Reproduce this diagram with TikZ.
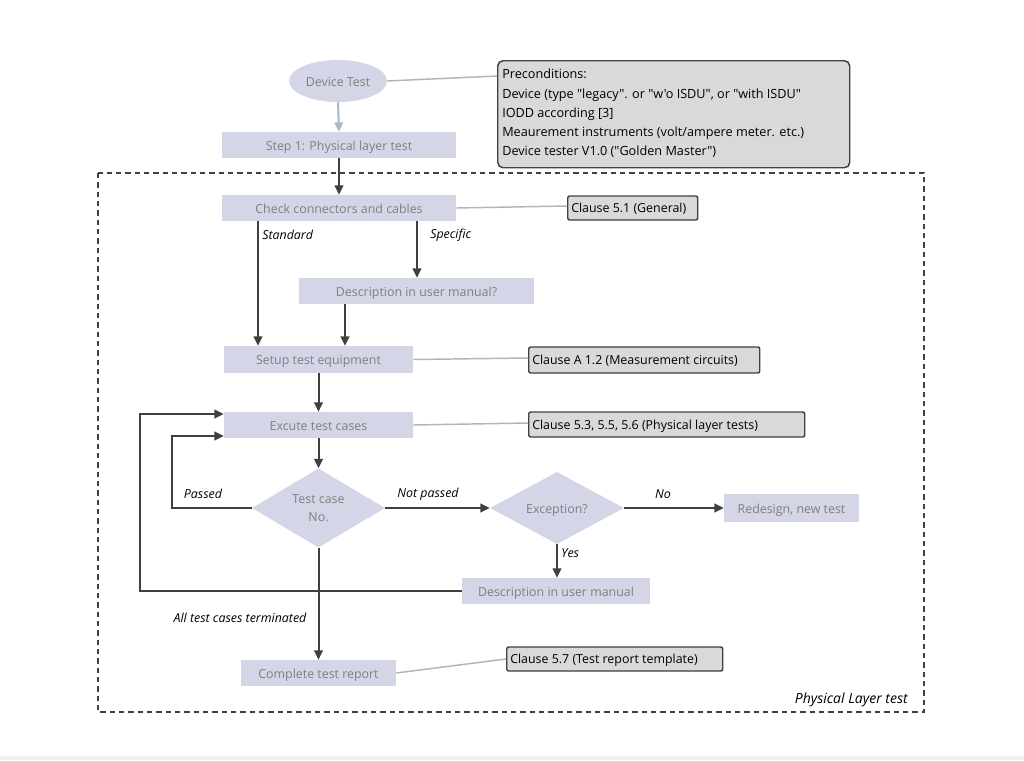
\documentclass[tikz,border=0pt]{standalone}
\usepackage{fontspec}
\setmainfont{Open Sans}[Ligatures=TeXOff]
\usetikzlibrary{shapes.geometric,arrows.meta}
\definecolor{boxfill}{HTML}{D4D6E8}
\definecolor{boxtext}{HTML}{7F7F7F}
\definecolor{darkline}{HTML}{404040}
\definecolor{greyline}{HTML}{B4B4B4}
\definecolor{notefill}{HTML}{D9D9D9}
\definecolor{blueline}{HTML}{A8B8C8}
\newcommand{\bodyfont}{\fontsize{9.3}{11}\selectfont}
\tikzset{
  lowtext/.style={text height=7.9pt, text depth=0pt},
  proc/.style={rectangle, fill=boxfill, text=boxtext, inner sep=0pt, font=\bodyfont, lowtext},
  dec/.style={diamond, fill=boxfill, text=boxtext, inner sep=0pt, align=center, font=\fontsize{9.3}{13.5}\selectfont},
  note/.style={rectangle, fill=notefill, draw=darkline, line width=1.1pt, rounded corners=1.5pt, inner sep=0pt, text=black, anchor=west},
  notetext/.style={anchor=west, inner sep=0pt, text=black, font=\bodyfont, text height=7.3pt, text depth=0pt},
  flow/.style={draw=darkline, line width=1.5pt, -{Triangle[length=7pt,width=6.5pt]}},
  link/.style={draw=greyline, line width=1.1pt},
  lbl/.style={font=\fontsize{9.3}{11}\selectfont\itshape, text=black, inner sep=0pt},
}
\begin{document}
\begin{tikzpicture}[x=0.75pt,y=-0.75pt]
\useasboundingbox (0,0) rectangle (1024,760);
\fill[white] (0,0) rectangle (1024,760);
\fill[black!6] (0,756) rectangle (1024,760);

% group frame
\draw[darkline, line width=1pt, dash pattern=on 4pt off 3pt] (98,173) rectangle (924,712);
\node[lbl, font=\fontsize{10.5}{12}\selectfont\itshape, anchor=south east] (grouplbl) at (908,707) {Physical Layer test};

% nodes
\node[ellipse, fill=boxfill, text=boxtext, minimum width=98*0.75pt, minimum height=42*0.75pt, inner sep=0pt, font=\bodyfont, lowtext] (start) at (338,81) {Device Test};
\node[proc, minimum width=234*0.75pt, minimum height=26*0.75pt] (step1) at (339,145) {Step 1: Physical layer test};
\node[proc, minimum width=234*0.75pt, minimum height=26*0.75pt] (check) at (339,208) {Check connectors and cables};
\node[proc, minimum width=235*0.75pt, minimum height=26*0.75pt] (descq) at (416.5,291) {Description in user manual?};
\node[proc, minimum width=189*0.75pt, minimum height=27*0.75pt] (setup) at (318.5,359.5) {Setup test equipment};
\node[proc, minimum width=189*0.75pt, minimum height=26*0.75pt] (exec) at (318.5,425) {Excute test cases};
\node[dec, minimum width=133*0.75pt, minimum height=64*0.75pt] (tc) at (318.5,508) {Test case\\No.};
\node[dec, lowtext, minimum width=134*0.75pt, minimum height=65*0.75pt] (exc) at (557,508) {Exception?};
\node[proc, minimum width=135*0.75pt, minimum height=28*0.75pt] (redesign) at (791.5,508) {Redesign, new test};
\node[proc, minimum width=188*0.75pt, minimum height=26*0.75pt] (desc) at (556,591) {Description in user manual};
\node[proc, minimum width=155*0.75pt, minimum height=26*0.75pt] (report) at (318.5,673) {Complete test report};

% notes
\node[rectangle, fill=notefill, draw=darkline, line width=1.1pt, rounded corners=4pt, inner sep=0pt, minimum width=352*0.75pt, minimum height=107*0.75pt, anchor=north west] (pre) at (497,60) {};
\node[anchor=north west, inner sep=0pt, align=left, text=black, font=\fontsize{9.5}{14.45}\selectfont] (pretext) at (502,69) {Preconditions:\\Device (type "legacy". or "w'o ISDU", or "with ISDU"\\IODD according [3]\\Meaurement instruments (volt/ampere meter. etc.)\\Device tester V1.0 ("Golden Master")};
\node[note, minimum width=130*0.75pt, minimum height=24*0.75pt] (c51) at (567,208) {};
\node[notetext] (c51t) at (571,208) {Clause 5.1 (General)};
\node[note, minimum width=231*0.75pt, minimum height=26*0.75pt] (ca12) at (528,360) {};
\node[notetext] (ca12t) at (532,360) {Clause A 1.2 (Measurement circuits)};
\node[note, minimum width=276*0.75pt, minimum height=25*0.75pt] (c53) at (528,424.5) {};
\node[notetext] (c53t) at (532,424.5) {Clause 5.3, 5.5, 5.6 (Physical layer tests)};
\node[note, minimum width=216*0.75pt, minimum height=24*0.75pt] (c57) at (506,659) {};
\node[notetext] (c57t) at (510,659) {Clause 5.7 (Test report template)};

% helper coordinates
\coordinate (xstd) at (258,0);
\coordinate (xspec) at (417,0);
\coordinate (xdq) at (345,0);
\coordinate (ypass) at (0,436);
\coordinate (xpass) at (172,0);
\coordinate (yloop) at (0,414);
\coordinate (xloop) at (140,0);

% links to notes
\draw[link] (start.east) -- (pre.west |- 0,76);
\draw[link] (check.east) -- (c51.west |- 0,206);
\draw[link] (setup.east) -- (ca12.west |- 0,358);
\draw[link] (exec.east) -- (c53.west |- 0,423);
\draw[link] (report.east) -- (c57.west);

% flow
\draw[draw=blueline, line width=1.5pt, -{Triangle[length=7pt,width=6.5pt]}] (start.south) -- (step1.north);
\draw[flow] (step1.south) -- (check.north);
\draw[flow] (check.south -| xstd) -- (setup.north -| xstd);
\node[lbl, anchor=west] (lstd) at (262,235) {Standard};
\draw[flow] (check.south -| xspec) -- (descq.north -| xspec);
\node[lbl, anchor=west] (lspec) at (430,235) {Specific};
\draw[flow] (descq.south -| xdq) -- (setup.north -| xdq);
\draw[flow] (setup.south) -- (exec.north);
\draw[flow] (exec.south) -- (tc.north);
\draw[flow] (tc.west) -- (tc.west -| xpass) -- (xpass |- ypass) -- (exec.west |- ypass);
\node[lbl] (lpass) at (203,494) {Passed};
\draw[flow] (tc.east) -- (exc.west);
\node[lbl] (lnp) at (428,494) {Not passed};
\draw[flow] (exc.east) -- (redesign.west);
\node[lbl] (lno) at (663,494) {No};
\draw[flow] (exc.south) -- (desc.north -| exc.south);
\node[lbl, anchor=west] (lyes) at (561,553) {Yes};
\draw[flow] (desc.west) -- (desc.west -| xloop) -- (xloop |- yloop) -- (exec.west |- yloop);
\draw[flow] (tc.south) -- (report.north);
\node[lbl] (lall) at (240,618) {All test cases terminated};
\end{tikzpicture}
\end{document}
